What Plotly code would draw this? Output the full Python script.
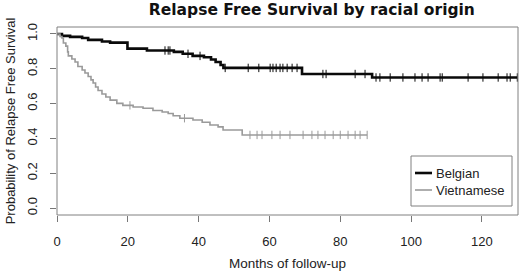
import numpy as np
import plotly.graph_objects as go

# ---- data ----
bel_times = [0, 1.4, 3.7, 7.1, 8.8, 12.7, 15.0, 19.9, 25.4, 33.0, 35.5, 38.3, 41.5,
             43.5, 44.8, 46.2, 47.0, 69.2, 89.0]
bel_surv = [1.0, 0.989, 0.983, 0.977, 0.966, 0.957, 0.95, 0.916, 0.905, 0.897, 0.886,
            0.874, 0.866, 0.853, 0.839, 0.822, 0.805, 0.77, 0.75]
bel_end = 130.0
bel_censor = [30.5, 31.4, 31.9, 37.0, 40.4, 47.5, 54.0, 57.0, 60.2, 61.0, 61.9, 63.0,
              63.8, 65.0, 66.4, 67.8, 75.1, 76.0, 84.2, 87.0, 90.1, 91.2, 94.1, 97.7,
              101.1, 103.1, 104.8, 108.2, 108.8, 116.1, 120.3, 124.6, 127.1, 128.0, 130.0]

vn_times = [0, 0.85, 1.4, 1.8, 2.5, 3.0, 3.2, 4.2, 5.1, 5.9, 7.1, 7.9, 8.8, 9.6, 10.2,
            10.9, 11.6, 12.7, 13.8, 15.0, 16.9, 18.6, 21.5, 24.3, 27.1, 29.7, 31.4,
            32.8, 34.7, 38.4, 41.0, 43.2, 45.5, 46.9, 52.3]
vn_surv = [1.0, 0.985, 0.977, 0.948, 0.93, 0.897, 0.874, 0.856, 0.839, 0.813, 0.793,
           0.776, 0.756, 0.736, 0.718, 0.695, 0.675, 0.655, 0.638, 0.62, 0.601, 0.59,
           0.58, 0.573, 0.56, 0.552, 0.543, 0.53, 0.516, 0.506, 0.493, 0.477, 0.466,
           0.448, 0.42]
vn_end = 87.6
vn_censor = [20.6, 36.0, 54.5, 56.5, 57.9, 60.7, 63.0, 65.8, 69.5, 72.0, 73.7, 75.7,
             78.0, 80.0, 82.2, 84.2, 85.6, 87.6]

x_ticks = [0, 20, 40, 60, 80, 100, 120]
y_ticks = [0.0, 0.2, 0.4, 0.6, 0.8, 1.0]
y_tick_labels = ["0.0", "0.2", "0.4", "0.6", "0.8", "1.0"]
series_names = ["Belgian", "Vietnamese"]
series_colors = ["#0a0a0a", "#9a9a9a"]

FONT = "Liberation Sans, Arial, sans-serif"


def step_value(times, surv, t):
    idx = np.searchsorted(np.asarray(times), np.asarray(t), side="right") - 1
    return np.asarray(surv)[idx]


fig = go.Figure()

groups = [
    (bel_times, bel_surv, bel_end, bel_censor, 2.6),
    (vn_times, vn_surv, vn_end, vn_censor, 1.6),
]
for (tt, ss, tend, cens, lw), name, col in zip(groups, series_names, series_colors):
    fig.add_trace(go.Scatter(
        x=list(tt) + [tend], y=list(ss) + [ss[-1]],
        mode="lines", line=dict(color=col, width=lw, shape="hv"),
        name=name, showlegend=False, hoverinfo="skip"))
    fig.add_trace(go.Scatter(
        x=cens, y=step_value(tt, ss, cens),
        mode="markers",
        marker=dict(symbol="line-ns", size=6, line=dict(color=col, width=1)),
        showlegend=False, hoverinfo="skip"))

L, R, T, B = 57, 2, 27, 58
W, H = 520, 273
pw, ph = W - L - R, H - T - B

fig.update_layout(
    width=W, height=H,
    margin=dict(l=L, r=R, t=T, b=B, pad=0),
    paper_bgcolor="white", plot_bgcolor="white",
    font=dict(family=FONT, color="#222222", size=13),
    title=dict(text="<b>Relapse Free Survival by racial origin</b>",
               x=(L + pw / 2) / W, xanchor="center", xref="paper",
               y=1 - 10 / H, yanchor="middle", yref="container",
               font=dict(size=15.5, color="#111111",
                         family="DejaVu Sans, Liberation Sans, sans-serif")),
    xaxis=dict(range=[0, 130.2], tickvals=x_ticks, ticks="outside", ticklen=6,
               tickcolor="#777777", tickwidth=1, showgrid=False, zeroline=False,
               showline=False, tickfont=dict(size=13), ticklabelstandoff=8,
               title=dict(text="Months of follow-up", font=dict(size=13.5),
                          standoff=10),
               automargin=False),
    yaxis=dict(range=[-0.04, 1.04], tickvals=y_ticks, ticktext=y_tick_labels,
               ticks="outside", ticklen=6, tickcolor="#777777", tickwidth=1,
               tickangle=-90, showgrid=False, zeroline=False, showline=False,
               tickfont=dict(size=13), ticklabelstandoff=8,
               title=dict(text="Probability of Relapse Free Survival",
                          font=dict(size=13), standoff=6),
               automargin=False),
)

# plot box
fig.add_shape(type="rect", xref="paper", yref="paper", x0=0, x1=1, y0=0, y1=1,
              line=dict(color="#808080", width=1), layer="above")

# legend box (manual, R-style)
def px_x(p):
    return (p - L) / pw


def px_y(p):
    return (H - B - p) / ph


fig.add_shape(type="rect", xref="paper", yref="paper",
              x0=px_x(411), x1=px_x(512), y0=px_y(206), y1=px_y(156),
              line=dict(color="#808080", width=1), fillcolor="white", layer="above")
for name, col, lw, ypx in zip(series_names, series_colors, [2.6, 1.6], [173, 190]):
    fig.add_shape(type="line", xref="paper", yref="paper",
                  x0=px_x(415), x1=px_x(432), y0=px_y(ypx), y1=px_y(ypx),
                  line=dict(color=col, width=lw), layer="above")
    fig.add_annotation(text=name, xref="paper", yref="paper",
                       x=px_x(434), y=px_y(ypx), xanchor="left", yanchor="middle",
                       showarrow=False, font=dict(size=13, color="#222222"))

fig.write_html("out.html",
               config={"displayModeBar": False, "staticPlot": True},
               post_script="document.body.style.margin='0';"
                           "document.body.style.overflow='hidden';")
